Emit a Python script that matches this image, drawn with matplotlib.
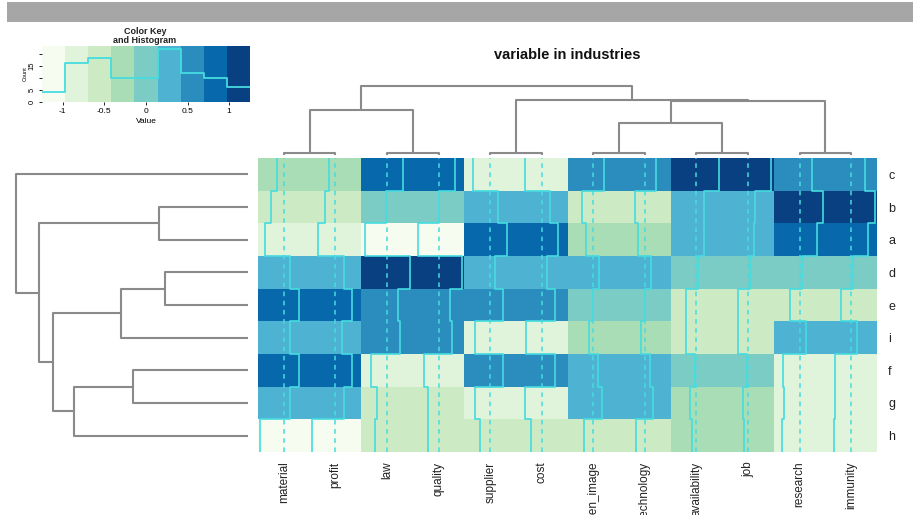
import numpy as np
import matplotlib
matplotlib.use("Agg")
import matplotlib.pyplot as plt
from matplotlib.colors import ListedColormap, BoundaryNorm
from matplotlib.patches import Rectangle

plt.rcParams['font.family'] = ['Liberation Sans', 'DejaVu Sans']

# ---------------- data ----------------
row_labels = ['c', 'b', 'a', 'd', 'e', 'i', 'f', 'g', 'h']
col_labels = ['material', 'profit', 'law', 'quality', 'supplier', 'cost',
              'green_image', 'technology', 'availability', 'job', 'research', 'immunity']

row_c = [-0.35, -0.33, 0.80, 0.80, -0.82, -0.82, 0.52, 0.56, 1.10, 1.10, 0.62, 0.65]
row_b = [-0.60, -0.50, -0.05, 0.00, 0.40, 0.38, -0.55, -0.50, 0.38, 0.33, 1.15, 1.15]
row_a = [-0.91, -0.83, -1.05, -1.00, 0.80, 0.80, -0.33, -0.33, 0.35, 0.30, 0.82, 0.82]
row_d = [0.30, 0.40, 1.12, 1.12, 0.24, 0.24, 0.30, 0.32, 0.07, 0.08, 0.10, 0.10]
row_e = [0.72, 0.79, 0.55, 0.56, 0.63, 0.63, 0.00, 0.00, -0.50, -0.47, -0.45, -0.50]
row_i = [0.30, 0.30, 0.63, 0.63, -0.75, -0.75, -0.20, -0.20, -0.50, -0.50, 0.30, 0.30]
row_f = [0.72, 0.79, -0.75, -0.72, 0.63, 0.66, 0.25, 0.25, -0.07, -0.05, -0.80, -0.80]
row_g = [0.30, 0.40, -0.50, -0.50, -0.75, -0.82, 0.40, 0.38, -0.30, -0.25, -0.75, -0.80]
row_h = [-1.15, -1.15, -0.57, -0.50, -0.50, -0.50, -0.45, -0.45, -0.20, -0.20, -0.85, -0.85]

# row dendrogram merges (leaf ids 0..8 in display order, new nodes 9..)
row_merge_left = [1, 3, 10, 6, 12, 11, 9, 0]
row_merge_right = [2, 4, 5, 7, 8, 13, 14, 15]
row_merge_height = [2.23, 2.08, 3.18, 2.88, 4.35, 4.88, 5.23, 5.80]

# column dendrogram merges (leaf ids 0..11, new nodes 12..)
col_merge_left = [0, 2, 4, 6, 8, 10, 15, 12, 18, 14, 19]
col_merge_right = [1, 3, 5, 7, 9, 11, 16, 13, 17, 20, 21]
col_merge_height = [0.14, 0.14, 0.14, 0.14, 0.14, 0.14, 2.29, 3.21, 3.86, 3.93, 4.93]

palette = ['#f7fcf0', '#e0f3db', '#ccebc5', '#a8ddb5', '#7bccc4',
           '#4eb3d3', '#2b8cbe', '#0868ac', '#084081']
breaks = np.linspace(-1.25, 1.25, 10)

values = np.array([row_c, row_b, row_a, row_d, row_e, row_i, row_f, row_g, row_h])
nrow, ncol = values.shape

W, H = 913, 515
fig = plt.figure(figsize=(W / 100, H / 100), dpi=100)


def ax_px(x0, y0, x1, y1):
    return fig.add_axes([x0 / W, 1 - y1 / H, (x1 - x0) / W, (y1 - y0) / H])


trace_col = '#45DCE0'
dendro_col = '#8a8a8a'
cmap = ListedColormap(palette)
norm = BoundaryNorm(breaks, cmap.N)

# grey band at the top
fig.patches.append(Rectangle((7 / W, 1 - 22 / H), 1, 20 / H, transform=fig.transFigure,
                             facecolor='#a6a6a6', edgecolor='none'))

# ---------------- heatmap ----------------
hx0, hy0, hx1, hy1 = 258, 158, 877, 452
ax = ax_px(hx0, hy0, hx1, hy1)
ax.pcolormesh(np.arange(ncol + 1), np.arange(nrow + 1), values, cmap=cmap, norm=norm)
ax.set_xlim(0, ncol)
ax.set_ylim(nrow, 0)
lo, hi = breaks[0], breaks[-1]
for j in range(ncol):
    ax.axvline(j + 0.5, color=trace_col, lw=1.1, dashes=(3, 3))
    xs = j + (values[:, j] - lo) / (hi - lo)
    px, py = [], []
    for r in range(nrow):
        px += [xs[r], xs[r]]
        py += [r, r + 1]
    ax.plot(px, py, color=trace_col, lw=1.2)
for s in ax.spines.values():
    s.set_visible(False)
ax.set_xticks(np.arange(ncol) + 0.5)
ax.set_xticklabels(col_labels, rotation=90, fontsize=8.5, color='#222222')
ax.set_yticks(np.arange(nrow) + 0.5)
ax.set_yticklabels(row_labels, fontsize=9, color='#222222')
ax.yaxis.tick_right()
ax.tick_params(axis='x', length=0, pad=7)
ax.tick_params(axis='y', length=0, pad=8)


def draw_dendro(axd, left, right, height, nleaf, vertical_leaves):
    pos = {i: i + 0.5 for i in range(nleaf)}
    hgt = {i: 0.0 for i in range(nleaf)}
    node = nleaf
    for a, b, h in zip(left, right, height):
        xa, xb = pos[a], pos[b]
        p = [xa, xa, xb, xb]
        q = [hgt[a], h, h, hgt[b]]
        if vertical_leaves:
            axd.plot(q, p, color=dendro_col, lw=1.5, clip_on=False, solid_capstyle='butt')
        else:
            axd.plot(p, q, color=dendro_col, lw=1.5, clip_on=False, solid_capstyle='butt')
        pos[node] = (xa + xb) / 2
        hgt[node] = h
        node += 1
    axd.axis('off')


# row dendrogram
axr = ax_px(16, hy0, 248, hy1)
draw_dendro(axr, row_merge_left, row_merge_right, row_merge_height, nrow, True)
axr.set_xlim(max(row_merge_height), 0)
axr.set_ylim(nrow, 0)

# column dendrogram
axc = ax_px(hx0, 86, hx1, 155)
draw_dendro(axc, col_merge_left, col_merge_right, col_merge_height, ncol, False)
axc.set_xlim(0, ncol)
axc.set_ylim(0, max(col_merge_height))

# title
fig.text(567 / W, 1 - 55 / H, 'variable in industries', fontsize=10.5, fontweight='bold',
         ha='center', va='center', color='#111111')

# ---------------- colour key ----------------
axk = ax_px(42, 46, 250, 102)
axk.pcolormesh(breaks, [0, 1], np.array([(breaks[:-1] + breaks[1:]) / 2]), cmap=cmap, norm=norm)
counts, _ = np.histogram(values.ravel(), bins=breaks)
hy = np.append(counts, counts[-1]) / counts.max() * 0.95
axk.step(breaks, hy, where='post', color=trace_col, lw=1.3)
axk.set_xlim(lo, hi)
axk.set_ylim(0, 1)
yt = np.array([0, 5, 10, 15, 20])
axk.set_yticks(yt / counts.max() * 0.95)
axk.set_yticklabels(['0', '5', '', '15', ''], fontsize=5.5, rotation=90, va='center')
axk.set_xticks([-1, -0.5, 0, 0.5, 1])
axk.set_xticklabels(['-1', '-0.5', '0', '0.5', '1'], fontsize=6)
axk.tick_params(length=2.5, width=0.6, pad=2)
for s in axk.spines.values():
    s.set_visible(False)
axk.set_xlabel('Value', fontsize=6, labelpad=2)
axk.set_ylabel('Count', fontsize=4, labelpad=1)
fig.text(145 / W, 1 - 36 / H, 'Color Key\nand Histogram', fontsize=6.5, fontweight='bold',
         ha='center', va='center', linespacing=1.05, color='#222222')

fig.savefig('out.png', dpi=100)
